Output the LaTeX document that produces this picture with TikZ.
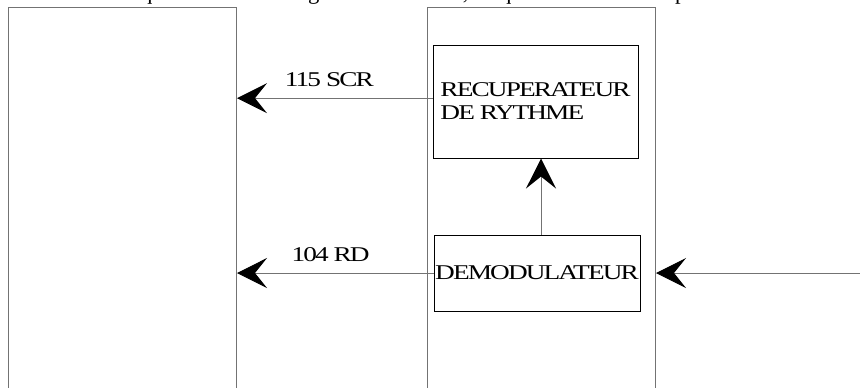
\documentclass[tikz,border=0pt]{standalone}
\usepackage{fontspec}
\setmainfont{Liberation Serif}
\newfontfamily\blockfont[FakeStretch=1.3,LetterSpace=-9]{Liberation Serif}
\usetikzlibrary{positioning, arrows.meta}

\begin{document}
\begin{tikzpicture}[x=0.75pt, y=-0.75pt, line width=0.75pt,
					outer/.style={draw=black!55, rectangle, anchor=north west, minimum width=171pt, minimum height=320pt, inner sep=0pt},
					block/.style={draw=black, rectangle, align=left, inner sep=0pt, font=\blockfont\fontsize{15.75}{17.25}\selectfont},
					arrow/.style={-{Stealth[length=22.5pt, width=22.5pt, inset=9pt, color=black]}, draw=black!55},
					sig/.style={above=8.25pt, inner sep=0pt, font=\blockfont\fontsize{15.75}{17.25}\selectfont}
					]
					\useasboundingbox (0,0) rectangle (860,387);
					
					% Top text line, cut by the page
					\node[anchor=base west, inner sep=0pt, font=\fontsize{17}{20}\selectfont] (caption) at (45,-0.5) {le modem qui demodule le signal des donn\'ees, ce qui a donc l'entr\'ee pour};
					
					% Outer blocks
					\node[outer] (dte) at (8,7) {};
					\node[outer] (modem) at (427,7) {};
					
					% Inner blocks
					\node[block, minimum width=153.75pt, minimum height=84.75pt] (recup) at (535.5,101.5) {RECUPERATEUR\\DE RYTHME};
					\node[block, minimum width=154.5pt, minimum height=57pt] (demod) at (537,273) {DEMODULATEUR};
					
					% Input signal
					\coordinate (line) at (860,273);
					
					% Arrows
					\draw[arrow] ([yshift=2.5pt]recup.west) -- node[sig, xshift=-4pt] {115 SCR} ([yshift=2.5pt]recup.west -| dte.east);
					\draw[arrow] (demod.west) -- node[sig, xshift=-3.5pt] {104 RD} (demod.west -| dte.east);
					\draw[arrow] ([xshift=3pt]demod.north) -- ([xshift=3pt]demod.north |- recup.south);
					\draw[arrow] (line) -- (line -| modem.east);
					
				\end{tikzpicture}
\end{document}
